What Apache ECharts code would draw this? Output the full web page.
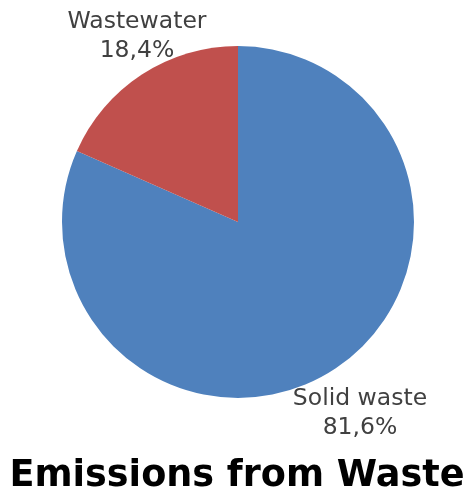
<!DOCTYPE html>
<html><head><meta charset="utf-8">
<script src="https://cdn.jsdelivr.net/npm/echarts@6/dist/echarts.min.js"></script>
<style>html,body{margin:0;padding:0;background:#fff}#c{width:474px;height:499px}</style>
</head><body><div id="c"></div>
<script>
const categories = ['Solid waste', 'Wastewater'];
const values = [81.6, 18.4];
const colors = ['#4F81BD', '#C0504D'];
const titleText = 'Emissions from Waste';

const chart = echarts.init(document.getElementById('c'), null, {renderer: 'canvas'});
const labelPos = [{x: 360, y: 413}, {x: 137, y: 36}];
chart.setOption({
  animation: false,
  title: {
    text: titleText, left: 'center', top: 453,
    textStyle: {fontFamily: 'DejaVu Sans', fontWeight: 'bold', fontSize: 36.6, color: '#000'}
  },
  series: [{
    type: 'pie',
    center: [238, 222],
    radius: 176,
    startAngle: 90,
    clockwise: true,
    data: categories.map((n, i) => ({name: n, value: values[i], itemStyle: {color: colors[i]}})),
    label: {
      show: true,
      position: 'outside',
      formatter: p => p.name + '\n' + String(p.value).replace('.', ',') + '%',
      fontFamily: 'DejaVu Sans', fontSize: 23.5, lineHeight: 29, color: '#404040', align: 'center',
      overflow: 'none', width: 220
    },
    labelLine: {show: false},
    labelLayout: p => ({x: labelPos[p.dataIndex].x, y: labelPos[p.dataIndex].y, align: 'center', verticalAlign: 'middle'})
  }]
});
</script>
</body></html>
